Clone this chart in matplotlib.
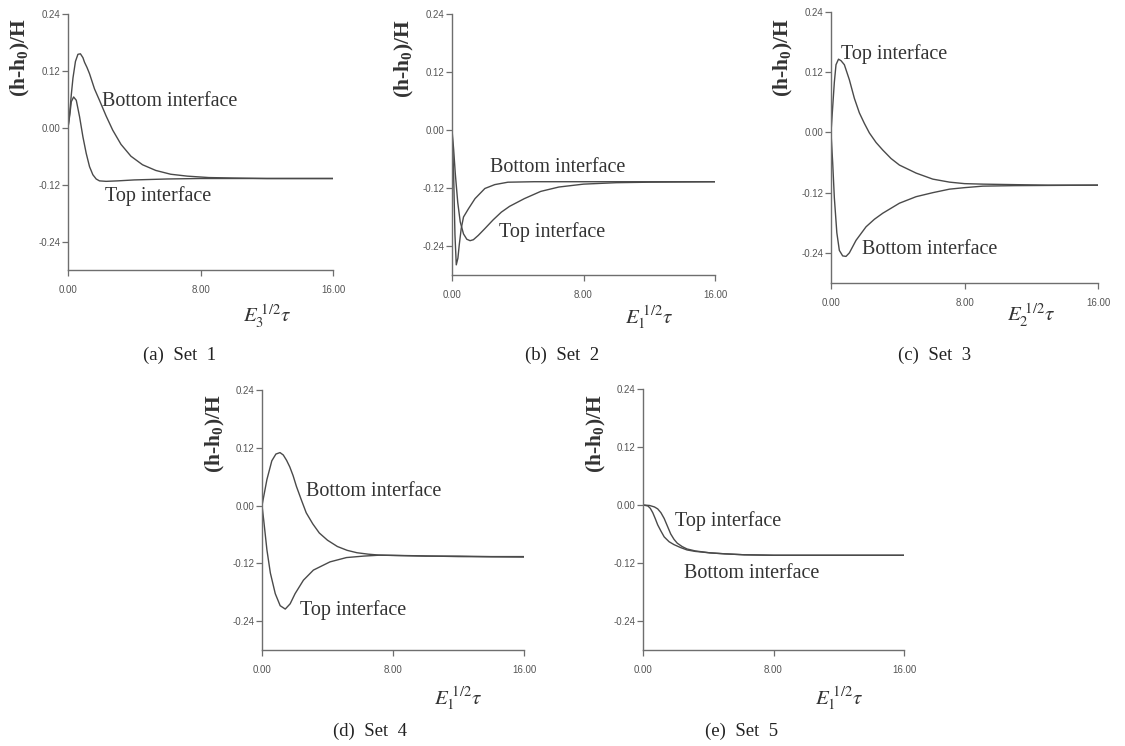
"""Interface displacement curves for five parameter sets."""
import matplotlib
matplotlib.use('Agg')
import matplotlib.pyplot as plt

plt.rcParams['font.family'] = ['Liberation Serif', 'DejaVu Serif']
plt.rcParams['mathtext.fontset'] = 'stix'

# ---- data ----
# Set 1
A_T_BOT = [0, 0.1, 0.2, 0.3, 0.45, 0.6, 0.75, 0.9, 1.0, 1.15, 1.3, 1.45, 1.6, 1.9, 2.3, 2.7, 3.2, 3.8, 4.5, 5.3, 6.2, 7.2, 8.5, 10, 12, 14, 16]
A_BOT = [0, 0.03, 0.07, 0.105, 0.14, 0.155, 0.156, 0.148, 0.138, 0.127, 0.114, 0.098, 0.082, 0.058, 0.025, -0.005, -0.035, -0.06, -0.078, -0.09, -0.098, -0.102, -0.105, -0.106, -0.107, -0.107, -0.107]
A_T_TOP = [0, 0.1, 0.2, 0.34, 0.5, 0.7, 0.9, 1.1, 1.3, 1.5, 1.7, 1.9, 2.3, 3.0, 4, 6, 8, 12, 16]
A_TOP = [0, 0.025, 0.055, 0.065, 0.058, 0.023, -0.019, -0.054, -0.082, -0.099, -0.108, -0.112, -0.113, -0.112, -0.11, -0.108, -0.107, -0.107, -0.107]

# Set 2
B_T_BOT = [0, 0.05, 0.1, 0.18, 0.26, 0.36, 0.44, 0.56, 0.7, 1.0, 1.4, 2.0, 2.6, 3.4, 5, 7, 10, 16]
B_BOT = [0, -0.04, -0.094, -0.217, -0.279, -0.265, -0.238, -0.204, -0.18, -0.163, -0.142, -0.121, -0.113, -0.108, -0.107, -0.107, -0.107, -0.107]
B_T_TOP = [0, 0.1, 0.2, 0.35, 0.5, 0.7, 0.9, 1.1, 1.3, 1.6, 2.0, 2.5, 3.0, 3.5, 4.4, 5.4, 6.5, 8, 10, 12, 16]
B_TOP = [0, -0.04, -0.09, -0.15, -0.19, -0.215, -0.226, -0.229, -0.227, -0.218, -0.204, -0.186, -0.17, -0.158, -0.142, -0.127, -0.118, -0.112, -0.109, -0.108, -0.107]

# Set 3
C_T_TOP = [0, 0.1, 0.2, 0.3, 0.45, 0.6, 0.8, 1.1, 1.4, 1.7, 2.0, 2.3, 2.7, 3.1, 3.6, 4.1, 5.1, 6.1, 7.1, 8, 9.1, 11, 13, 16]
C_TOP = [0, 0.05, 0.1, 0.135, 0.146, 0.143, 0.135, 0.105, 0.068, 0.039, 0.018, -0.001, -0.02, -0.035, -0.052, -0.065, -0.081, -0.093, -0.099, -0.102, -0.103, -0.104, -0.105, -0.105]
C_T_BOT = [0, 0.1, 0.2, 0.35, 0.5, 0.7, 0.9, 1.1, 1.5, 2.1, 2.6, 3.1, 4.1, 5.1, 6.1, 7.1, 8, 9.1, 11, 16]
C_BOT = [0, -0.06, -0.13, -0.2, -0.235, -0.246, -0.247, -0.24, -0.215, -0.188, -0.173, -0.161, -0.141, -0.128, -0.12, -0.113, -0.11, -0.107, -0.106, -0.105]

# Set 4
D_T_BOT = [0, 0.3, 0.6, 0.85, 1.1, 1.3, 1.5, 1.7, 1.9, 2.1, 2.4, 2.7, 3.1, 3.5, 4.0, 4.6, 5.2, 5.8, 6.5, 7.2, 8.5, 10, 12, 14, 16]
D_BOT = [0, 0.054, 0.093, 0.107, 0.11, 0.105, 0.094, 0.08, 0.062, 0.04, 0.012, -0.015, -0.038, -0.057, -0.072, -0.085, -0.093, -0.098, -0.101, -0.103, -0.104, -0.105, -0.105, -0.106, -0.106]
D_T_TOP = [0, 0.1, 0.3, 0.51, 0.81, 1.11, 1.42, 1.72, 2.02, 2.53, 3.14, 4.15, 5.16, 6.2, 7.2, 9, 12, 16]
D_TOP = [0, -0.029, -0.092, -0.14, -0.183, -0.208, -0.215, -0.204, -0.183, -0.155, -0.134, -0.117, -0.108, -0.105, -0.103, -0.104, -0.106, -0.107]

# Set 5
E_T_TOP = [0, 0.4, 0.7, 0.9, 1.1, 1.3, 1.5, 1.7, 1.9, 2.1, 2.4, 2.7, 3.2, 4.1, 5, 6.2, 8, 16]
E_TOP = [0, -0.001, -0.004, -0.008, -0.016, -0.028, -0.044, -0.06, -0.071, -0.079, -0.086, -0.091, -0.095, -0.099, -0.101, -0.103, -0.104, -0.104]
E_T_BOT = [0, 0.3, 0.45, 0.6, 0.75, 0.9, 1.1, 1.3, 1.6, 1.9, 2.3, 2.7, 3.2, 4.1, 5, 6.2, 8, 16]
E_BOT = [0, -0.002, -0.007, -0.016, -0.028, -0.041, -0.054, -0.066, -0.076, -0.082, -0.088, -0.093, -0.096, -0.099, -0.101, -0.103, -0.104, -0.104]

Y_TICKS = [-0.24, -0.12, 0.00, 0.12, 0.24]
X_TICKS = [0, 8, 16]
CAPTIONS = ['(a)  Set  1', '(b)  Set  2', '(c)  Set  3', '(d)  Set  4', '(e)  Set  5']
E_INDEX = ['3', '1', '2', '1', '1']

panels = [
    # curves, labels (text, x, y), axes rect / caption centre in px
    dict(curves=[(A_T_BOT, A_BOT), (A_T_TOP, A_TOP)],
         labels=[('Bottom interface', 2.06, 0.056), ('Top interface', 2.26, -0.144)],
         rect=(68, 14, 333, 270), xdrop=0.18, cap=(180, 355)),
    dict(curves=[(B_T_BOT, B_BOT), (B_T_TOP, B_TOP)],
         labels=[('Bottom interface', 2.32, -0.078), ('Top interface', 2.86, -0.212)],
         rect=(452, 14, 715, 275), xdrop=0.16, cap=(562, 355)),
    dict(curves=[(C_T_TOP, C_TOP), (C_T_BOT, C_BOT)],
         labels=[('Top interface', 0.58, 0.157), ('Bottom interface', 1.84, -0.233)],
         rect=(831, 12, 1098, 283), xdrop=0.12, cap=(935, 355)),
    dict(curves=[(D_T_BOT, D_BOT), (D_T_TOP, D_TOP)],
         labels=[('Bottom interface', 2.69, 0.030), ('Top interface', 2.33, -0.217)],
         rect=(262, 390, 524, 650), xdrop=0.185, cap=(370, 731)),
    dict(curves=[(E_T_TOP, E_TOP), (E_T_BOT, E_BOT)],
         labels=[('Top interface', 1.98, -0.034), ('Bottom interface', 2.49, -0.141)],
         rect=(643, 389, 904, 650), xdrop=0.184, cap=(742, 731)),
]

W, H = 1125, 746
fig = plt.figure(figsize=(W / 100, H / 100), dpi=100)
line_color = '#4a4a4a'
axis_color = '#6e6e6e'

for i, p in enumerate(panels):
    x0, y0, x1, y1 = p['rect']
    ax = fig.add_axes([x0 / W, 1 - y1 / H, (x1 - x0) / W, (y1 - y0) / H])
    for t, v in p['curves']:
        ax.plot(t, v, color=line_color, lw=1.0)
    for text, tx, ty in p['labels']:
        ax.text(tx, ty, text, fontsize=14.5, color='#333333', va='center', ha='left')

    ax.set_xlim(0, 16)
    ax.set_ylim(-0.30, 0.24)
    ax.set_xticks(X_TICKS)
    ax.set_xticklabels(['%.2f' % v for v in X_TICKS])
    ax.set_yticks(Y_TICKS)
    ax.set_yticklabels(['%.2f' % v for v in Y_TICKS])
    ax.tick_params(length=4.5, width=0.9, color=axis_color, labelsize=7,
                   labelcolor='#555555', pad=1)
    for lab in ax.get_xticklabels() + ax.get_yticklabels():
        lab.set_family('Liberation Sans')
    ax.xaxis.set_tick_params(pad=6)
    for side in ['top', 'right']:
        ax.spines[side].set_visible(False)
    for side in ['left', 'bottom']:
        ax.spines[side].set_color(axis_color)
        ax.spines[side].set_linewidth(1.0)
    ax.patch.set_alpha(0)

    ax.set_ylabel(r'(h-h$_\mathregular{0}$)/H', fontsize=15.5, fontweight='bold', color='#333333')
    ax.yaxis.set_label_coords(-0.135, 0.83)
    ax.text(0.75, -p['xdrop'], r'$E_{%s}^{\;1/2}\tau$' % E_INDEX[i], transform=ax.transAxes,
            fontsize=15, ha='center', va='center', color='#333333')

    cx, cy = p['cap']
    fig.text(cx / W, 1 - cy / H, CAPTIONS[i], fontsize=13.5, ha='center', va='center',
             color='#222222')

fig.savefig('out.png', dpi=100)
